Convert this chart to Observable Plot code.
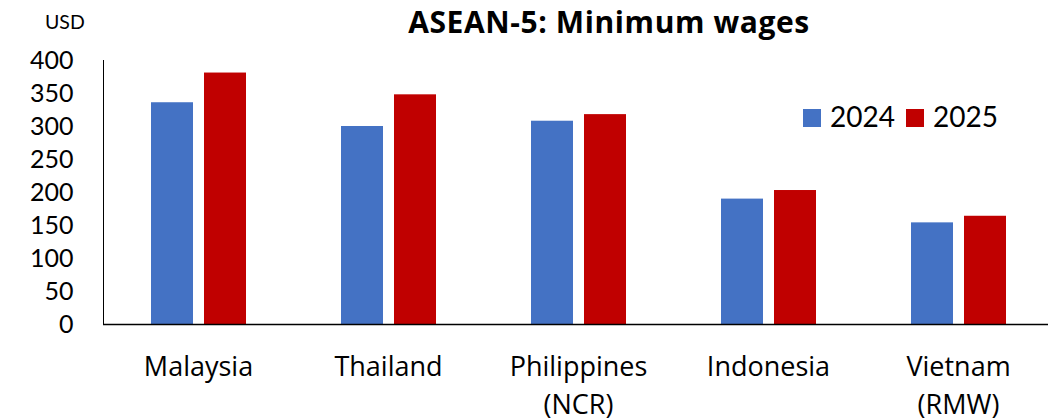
<!DOCTYPE html>
<html>
<head>
<meta charset="utf-8">
<script src="https://cdn.jsdelivr.net/npm/d3@7"></script>
<script src="https://cdn.jsdelivr.net/npm/@observablehq/plot@0.6"></script>
<style>
  html, body { margin: 0; padding: 0; background: #fff; overflow: hidden; }
  #chart { position: relative; width: 1048px; height: 418px; }
  #chart svg.overlay { position: absolute; left: 0; top: 0; pointer-events: none; }
</style>
</head>
<body>
<div id="chart"></div>
<script>
// Monthly minimum wages in USD, ASEAN-5
const countries = ["Malaysia", "Thailand", "Philippines", "Indonesia", "Vietnam"];
const countryLabels = ["Malaysia", "Thailand", "Philippines\n(NCR)", "Indonesia", "Vietnam\n(RMW)"];
const years = ["2024", "2025"];
const wages2024 = [336, 300, 308, 190, 154];
const wages2025 = [381, 348, 318, 203, 164];
const yTicks = [0, 50, 100, 150, 200, 250, 300, 350, 400];
const colors = ["#4472C4", "#C00000"];

const series = [wages2024, wages2025];
const rows = [];
countries.forEach((c, i) => {
  years.forEach((y, j) => rows.push({country: c, year: y, value: series[j][i]}));
});
const labelRows = countries.map((c, i) => ({country: c, label: countryLabels[i]}));

const font = "Lato, 'Open Sans', sans-serif";
const labelFont = "'Open Sans', Lato, sans-serif";

const plot = Plot.plot({
  width: 1048,
  height: 418,
  marginLeft: 103,
  marginRight: -5,
  marginTop: 60,
  marginBottom: 94,
  style: {fontFamily: font, fontSize: "25px", color: "#000", background: "#fff", overflow: "visible"},
  fx: {domain: countries, padding: 0, axis: null},
  x: {domain: years, paddingInner: 0.209, paddingOuter: 0.864, axis: null},
  y: {
    domain: [0, 400],
    ticks: yTicks,
    tickSize: 0,
    tickPadding: 30,
    line: true,
    label: null
  },
  color: {domain: years, range: colors},
  marks: [
    Plot.barY(rows, {fx: "country", x: "year", y: "value", fill: "year"}),
    Plot.ruleY([0], {stroke: "#000", strokeWidth: 1.5}),
    // country names below the baseline, first line's baseline ~51px under it
    Plot.text(labelRows, {
      fx: "country",
      text: "label",
      frameAnchor: "bottom",
      lineAnchor: "bottom",
      dy: 51,
      fontFamily: labelFont,
      fontSize: "27px",
      fill: "#000"
    })
  ]
});

const chart = document.getElementById("chart");
chart.appendChild(plot);

// Stack multi-line country names downward from the first line
d3.select(plot).selectAll("text").each(function() {
  const spans = d3.select(this).selectAll("tspan");
  if (spans.size() > 1) {
    spans.each(function(d, i) {
      d3.select(this).attr("y", null).attr("dy", i === 0 ? "0" : "38");
    });
  }
});

// Title, unit label and legend drawn on top of the plot
const overlay = d3.select(chart).append("svg")
  .attr("class", "overlay")
  .attr("width", 1048)
  .attr("height", 418)
  .style("font-family", font);

overlay.append("text")
  .attr("x", 609).attr("y", 33)
  .attr("text-anchor", "middle")
  .attr("font-family", labelFont)
  .attr("font-size", 30)
  .attr("font-weight", "bold")
  .attr("letter-spacing", 0.6)
  .text("ASEAN-5: Minimum wages");

overlay.append("text")
  .attr("x", 45).attr("y", 29)
  .attr("font-size", 19.5)
  .text("USD");

const legendX = [803, 906];
years.forEach((y, i) => {
  overlay.append("rect")
    .attr("x", legendX[i]).attr("y", 109)
    .attr("width", 18).attr("height", 18)
    .attr("fill", colors[i]);
  overlay.append("text")
    .attr("x", legendX[i] + 27).attr("y", 127)
    .attr("font-size", 28)
    .text(y);
});
</script>
</body>
</html>
